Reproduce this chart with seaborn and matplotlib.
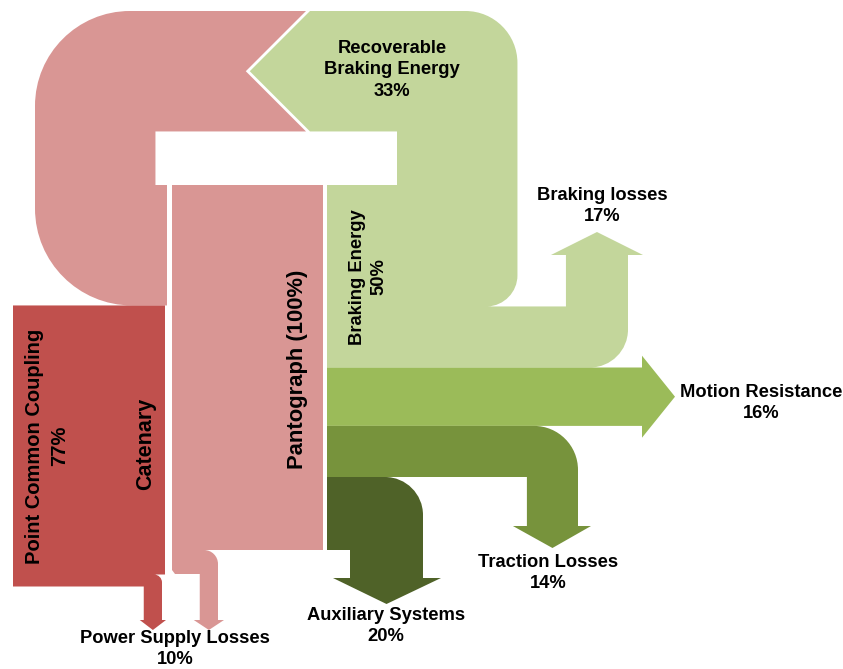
import numpy as np
import matplotlib
matplotlib.use("Agg")
import matplotlib.pyplot as plt
from matplotlib.path import Path
from matplotlib.patches import PathPatch
import seaborn as sns

# Energy shares (% of pantograph energy)
nodes = ["Point Common Coupling", "Power Supply Losses", "Pantograph",
         "Braking Energy", "Recoverable Braking Energy", "Braking losses",
         "Motion Resistance", "Traction Losses", "Auxiliary Systems"]
shares = [77, 10, 100, 50, 33, 17, 16, 14, 20]
label_text = ["Point Common Coupling\n77%", "Power Supply Losses\n10%",
              "Pantograph (100%)", "Braking Energy\n50%",
              "Recoverable\nBraking Energy\n33%", "Braking losses\n17%",
              "Motion Resistance\n16%", "Traction Losses\n14%",
              "Auxiliary Systems\n20%"]
v = dict(zip(nodes, shares))

# Palette (reds for supply side, greens for consumption side)
C_PCC = "#c0504d"
C_PINK = "#d99694"
C_LGREEN = "#c3d69b"
C_MOTION = "#9bbb59"
C_TRACT = "#77933c"
C_AUX = "#4f6228"

sns.set_theme(style="white")
plt.rcParams["font.family"] = ["Liberation Sans", "DejaVu Sans"]

W, H = 843, 669
fig = plt.figure(figsize=(W / 100, H / 100), dpi=100)
ax = fig.add_axes([0, 0, 1, 1])
ax.set_xlim(0, W)
ax.set_ylim(H, 0)
ax.axis("off")

K = 3.65  # drawing units per percent of flow
KAPPA = 0.5523


def rounded_patch(pts, color, z=1):
    """Closed polygon; each vertex is (x, y, corner_radius)."""
    n = len(pts)
    verts, codes = [], []
    for i in range(n):
        x, y, r = pts[i]
        p = np.array([x, y], float)
        if r <= 0:
            verts.append(p)
            codes.append(Path.LINETO)
            continue
        prv = np.array(pts[i - 1][:2], float)
        nxt = np.array(pts[(i + 1) % n][:2], float)
        d_in = (p - prv) / np.linalg.norm(p - prv)
        d_out = (nxt - p) / np.linalg.norm(nxt - p)
        a = p - d_in * r
        b = p + d_out * r
        verts += [a, a + d_in * r * KAPPA, b - d_out * r * KAPPA, b]
        codes += [Path.LINETO, Path.CURVE4, Path.CURVE4, Path.CURVE4]
    codes[0] = Path.MOVETO
    verts.append(verts[0])
    codes.append(Path.CLOSEPOLY)
    ax.add_patch(PathPatch(Path(verts, codes), facecolor=color,
                           edgecolor="none", lw=0, zorder=z))


# ---- layout anchors ----
col_x0, col_x1 = 172, 323          # pantograph column
col_top = 185
col_bot = col_top + v["Pantograph"] * K
gx = 327                           # start of consumption stack
y_b0 = col_top
y_b1 = y_b0 + v["Braking Energy"] * K
y_m1 = y_b1 + v["Motion Resistance"] * K
y_t1 = y_m1 + v["Traction Losses"] * K
y_a1 = y_t1 + v["Auxiliary Systems"] * K

rec_w = v["Recoverable Braking Energy"] * K
top_y0 = 11
top_y1 = top_y0 + rec_w
chev_x = 310
chev_mid = (top_y0 + top_y1) / 2
chev_tip = chev_x - rec_w / 2
gap = 4

# ---- pink loop: recovered energy returning to the supply side ----
loop_x0 = 35
loop_x1 = loop_x0 + rec_w
loop_bot = col_top + rec_w
rounded_patch([
    (chev_x - gap, top_y0, 0), (chev_tip - gap, chev_mid, 0),
    (chev_x - gap, top_y1, 0), (loop_x1, top_y1, 0),
    (loop_x1, col_top, 0), (col_x0 - 5, col_top, 0),
    (col_x0 - 5, loop_bot, 0), (loop_x0, loop_bot, 97),
    (loop_x0, top_y0, 95),
], C_PINK)

# ---- point of common coupling with its supply loss ----
pcc_x0, pcc_x1 = 13, 165
pcc_top = loop_bot
pcc_bot = pcc_top + v["Point Common Coupling"] * K
half_loss = v["Power Supply Losses"] / 2 * K
arrow_base = 620
rs_x1 = 162
rs_x0 = rs_x1 - half_loss
rs_r = 8
notch_y = pcc_bot - 12
rounded_patch([
    (pcc_x0, pcc_top, 0), (pcc_x1, pcc_top, 0), (pcc_x1, notch_y, 0),
    (rs_x1 - rs_r, notch_y, 0), (rs_x1, notch_y, rs_r),
    (rs_x1, arrow_base, 0), (rs_x1 + 4, arrow_base, 0),
    ((rs_x0 + rs_x1) / 2, arrow_base + 10, 0), (rs_x0 - 4, arrow_base, 0),
    (rs_x0, arrow_base, 0), (rs_x0, pcc_bot, 0), (pcc_x0, pcc_bot, 0),
], C_PCC)

# ---- catenary / pantograph column with its supply loss ----
ps_x1 = 218
ps_x0 = ps_x1 - half_loss
ps_r = 14
rounded_patch([
    (col_x0, col_top, 0), (col_x1, col_top, 0), (col_x1, col_bot, 0),
    (ps_x1 - ps_r, col_bot, 0), (ps_x1, col_bot, ps_r),
    (ps_x1, arrow_base, 0), (ps_x1 + 6, arrow_base, 0),
    ((ps_x0 + ps_x1) / 2, arrow_base + 10, 0), (ps_x0 - 6, arrow_base, 0),
    (ps_x0, arrow_base, 0), (ps_x0, col_bot + 24, 0),
    (col_x0 + 3, col_bot + 24, 0), (col_x0, col_bot + 20, 0),
], C_PINK)

# ---- braking energy: recoverable part goes up and back, losses go up-right ----
leg_x0 = 397
leg_x1 = leg_x0 + rec_w
loss_y0 = y_b1 - v["Braking losses"] * K
bl_x1 = 628
bl_x0 = bl_x1 - v["Braking losses"] * K
bl_head = 255
leg_r = 30
rounded_patch([
    (chev_x, top_y0, 0), (leg_x1, top_y0, 52), (leg_x1, loss_y0, leg_r),
    (leg_x1 - leg_r, loss_y0 + 1, 0),
    (bl_x0, loss_y0 + 1, 0), (bl_x0, bl_head, 0), (bl_x0 - 15, bl_head, 0),
    ((bl_x0 + bl_x1) / 2, bl_head - 23, 0), (bl_x1 + 15, bl_head, 0),
    (bl_x1, bl_head, 0), (bl_x1, y_b1, 38), (gx, y_b1, 0), (gx, y_b0, 0),
    (leg_x0, y_b0, 0), (leg_x0, top_y1, 0), (chev_x, top_y1, 0),
    (chev_tip, chev_mid, 0),
], C_LGREEN, z=2)

# ---- motion resistance ----
mh_x = 642
y_mc = (y_b1 + y_m1) / 2
rounded_patch([
    (gx, y_b1, 0), (mh_x, y_b1, 0), (mh_x, y_mc - 41, 0), (mh_x + 33, y_mc, 0),
    (mh_x, y_mc + 41, 0), (mh_x, y_m1, 0), (gx, y_m1, 0),
], C_MOTION, z=3)

# ---- traction losses ----
t_x1 = 578
t_x0 = t_x1 - v["Traction Losses"] * K
t_head = 526
rounded_patch([
    (gx, y_m1, 0), (t_x1, y_m1, 44), (t_x1, t_head, 0), (t_x1 + 13, t_head, 0),
    ((t_x0 + t_x1) / 2, t_head + 22, 0), (t_x0 - 14, t_head, 0),
    (t_x0, t_head, 0), (t_x0, y_t1, 0), (gx, y_t1, 0),
], C_TRACT, z=4)

# ---- auxiliary systems ----
a_x1 = 423
a_x0 = a_x1 - v["Auxiliary Systems"] * K
a_head = 578
rounded_patch([
    (gx, y_t1, 0), (a_x1, y_t1, 38), (a_x1, a_head, 0), (a_x1 + 18, a_head, 0),
    ((a_x0 + a_x1) / 2, a_head + 26, 0), (a_x0 - 17, a_head, 0),
    (a_x0, a_head, 0), (a_x0, y_a1, 0), (gx, y_a1, 0),
], C_AUX, z=5)

# ---- labels ----
txt = dict(color="black", fontweight="bold", ha="center", va="center",
           multialignment="center", linespacing=1.38, zorder=10)
lab = dict(zip(nodes, label_text))
ax.text(392, 70, lab["Recoverable Braking Energy"], fontsize=13.2, **txt)
ax.text(602, 206, lab["Braking losses"], fontsize=13.2, **txt)
ax.text(761, 403, lab["Motion Resistance"], fontsize=13.2, **txt)
ax.text(548, 573, lab["Traction Losses"], fontsize=13.2, **txt)
ax.text(386, 626, lab["Auxiliary Systems"], fontsize=13.2, **txt)
ax.text(175, 649, lab["Power Supply Losses"], fontsize=13.2, **txt)
ax.text(47, 446, lab["Point Common Coupling"], fontsize=14.5, rotation=90, **txt)
ax.text(146, 444, "Catenary", fontsize=15.5, rotation=90, **txt)
ax.text(298, 369, lab["Pantograph"], fontsize=15.8, rotation=90, **txt)
ax.text(368, 277, lab["Braking Energy"], fontsize=13.2, rotation=90, **txt)

fig.savefig("out.png", dpi=100, facecolor="white")
